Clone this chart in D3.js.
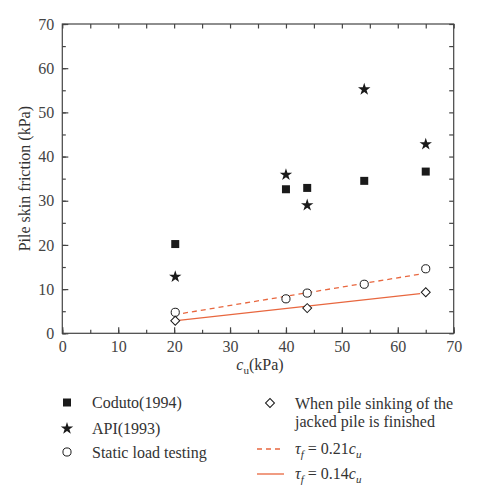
<!DOCTYPE html>
<html lang="en">
<head>
    <meta charset="utf-8">
    <title>Pile skin friction vs cu</title>
    <style>
        body { margin: 0; background: #fff; }
        svg text { font-family: "Liberation Serif", "DejaVu Serif", serif; fill: #333; }
        .axis path, .axis line { stroke: #444; stroke-width: 1.2; }
        .axis text { font-size: 16px; fill: #444; }
    </style>
</head>
<body>
<div id="chart"></div>
<script src="https://d3js.org/d3.v7.min.js"></script>
<script>
    // values
    var cuCoduto = [20.2, 40, 43.8, 54, 65];
    var coduto = [20.2, 32.6, 32.9, 34.5, 36.6];
    var cuApi = [20.2, 40, 43.8, 54, 65];
    var api = [12.8, 35.9, 29.0, 55.2, 42.8];
    var cuStatic = [20.2, 40, 43.8, 54, 65];
    var staticLoad = [4.75, 7.8, 9.1, 11.1, 14.6];
    var cuSinking = [20.2, 43.8, 65];
    var sinking = [2.85, 5.7, 9.3];
    var cuFit = [20, 64];
    var fit021 = [4.2, 13.4];
    var fit014 = [2.8, 9.0];
    var xTicks = [0, 10, 20, 30, 40, 50, 60, 70];
    var yTicks = [0, 10, 20, 30, 40, 50, 60, 70];

    var width = 478, height = 500;
    var margin = {left: 62.3, right: 24.3, top: 24, bottom: 166.7};
    var lineColor = "#e8673f";

    var svg = d3.select("#chart").append("svg")
        .attr("width", width).attr("height", height);

    var x = d3.scaleLinear().domain([0, 70]).range([margin.left, width - margin.right]);
    var y = d3.scaleLinear().domain([0, 70]).range([height - margin.bottom, margin.top]);
    var minor = d3.range(0, 71, 5);

    // frame
    svg.append("rect")
        .attr("x", x(0)).attr("y", y(70))
        .attr("width", x(70) - x(0)).attr("height", y(0) - y(70))
        .attr("fill", "none").attr("stroke", "#444").attr("stroke-width", 1.2);

    function noDomain(g) { g.select(".domain").remove(); }

    // inward ticks on all four sides
    svg.append("g").attr("class", "axis")
        .attr("transform", "translate(0," + y(0) + ")")
        .call(d3.axisBottom(x).tickValues(xTicks).tickSize(-6).tickPadding(7).tickFormat(d3.format("d")))
        .call(noDomain);
    svg.append("g").attr("class", "axis")
        .attr("transform", "translate(0," + y(0) + ")")
        .call(d3.axisBottom(x).tickValues(minor).tickSize(-3.5).tickFormat(""))
        .call(noDomain);
    svg.append("g").attr("class", "axis")
        .attr("transform", "translate(0," + y(70) + ")")
        .call(d3.axisTop(x).tickValues(minor).tickSize(-4.5).tickFormat(""))
        .call(noDomain);
    svg.append("g").attr("class", "axis")
        .attr("transform", "translate(" + x(0) + ",0)")
        .call(d3.axisLeft(y).tickValues(yTicks).tickSize(-6).tickPadding(8).tickFormat(d3.format("d")))
        .call(noDomain);
    svg.append("g").attr("class", "axis")
        .attr("transform", "translate(" + x(0) + ",0)")
        .call(d3.axisLeft(y).tickValues(minor).tickSize(-3.5).tickFormat(""))
        .call(noDomain);
    svg.append("g").attr("class", "axis")
        .attr("transform", "translate(" + x(70) + ",0)")
        .call(d3.axisRight(y).tickValues(minor).tickSize(-4.5).tickFormat(""))
        .call(noDomain);

    // axis titles
    var xt = svg.append("text")
        .attr("x", x(35) + 2).attr("y", 370)
        .attr("text-anchor", "middle").attr("font-size", 16);
    xt.append("tspan").attr("font-style", "italic").text("c");
    xt.append("tspan").attr("font-size", 11).attr("dy", 4).text("u");
    xt.append("tspan").attr("dy", -4).text("(kPa)");

    svg.append("text")
        .attr("transform", "translate(30," + y(35) + ") rotate(-90)")
        .attr("text-anchor", "middle").attr("font-size", 16)
        .text("Pile skin friction (kPa)");

    // fit lines
    var line = d3.line().x(function (d) { return x(d[0]); }).y(function (d) { return y(d[1]); });
    svg.append("path").datum(d3.zip(cuFit, fit021))
        .attr("d", line).attr("fill", "none").attr("stroke", lineColor)
        .attr("stroke-width", 1.3).attr("stroke-dasharray", "5,4");
    svg.append("path").datum(d3.zip(cuFit, fit014))
        .attr("d", line).attr("fill", "none").attr("stroke", lineColor)
        .attr("stroke-width", 1.3);

    var sym = {
        square: d3.symbol().type(d3.symbolSquare).size(64),
        star: d3.symbol().type(d3.symbolStar).size(48),
        circle: d3.symbol().type(d3.symbolCircle).size(52),
        diamond: d3.symbol().type(d3.symbolSquare).size(40)
    };

    function drawPoints(xs, ys, kind, filled) {
        svg.append("g").selectAll("path")
            .data(d3.zip(xs, ys))
            .enter().append("path")
            .attr("d", sym[kind])
            .attr("transform", function (d) {
                return "translate(" + x(d[0]) + "," + y(d[1]) + ")" + (kind === "diamond" ? " rotate(45)" : "");
            })
            .attr("fill", filled ? "#1a1a1a" : "#fff")
            .attr("stroke", "#1a1a1a").attr("stroke-width", filled ? 0 : 1);
    }
    drawPoints(cuCoduto, coduto, "square", true);
    drawPoints(cuApi, api, "star", true);
    drawPoints(cuStatic, staticLoad, "circle", false);
    drawPoints(cuSinking, sinking, "diamond", false);

    // legend
    var lg = svg.append("g");
    function legendSymbol(kind, filled, cx, cy) {
        lg.append("path").attr("d", sym[kind])
            .attr("transform", "translate(" + cx + "," + cy + ")" + (kind === "diamond" ? " rotate(45)" : ""))
            .attr("fill", filled ? "#1a1a1a" : "#fff")
            .attr("stroke", "#1a1a1a").attr("stroke-width", filled ? 0 : 1);
    }
    function legendText(tx, ty, str) {
        return lg.append("text").attr("x", tx).attr("y", ty).attr("font-size", 16).text(str);
    }
    legendSymbol("square", true, 67, 402.5);
    legendText(92, 408, "Coduto(1994)");
    legendSymbol("star", true, 67, 428.5);
    legendText(92, 433.5, "API(1993)");
    legendSymbol("circle", false, 67, 452);
    legendText(92, 457.5, "Static load testing");

    legendSymbol("diamond", false, 270, 403);
    legendText(295, 408.5, "When pile sinking of the");
    legendText(295, 426.5, "jacked pile is finished");

    lg.append("line").attr("x1", 257).attr("x2", 284).attr("y1", 449).attr("y2", 449)
        .attr("stroke", lineColor).attr("stroke-width", 1.3).attr("stroke-dasharray", "5,4");
    lg.append("line").attr("x1", 257).attr("x2", 284).attr("y1", 474).attr("y2", 474)
        .attr("stroke", lineColor).attr("stroke-width", 1.3);

    function tauLabel(ty, coef) {
        var t = legendText(295, ty, "");
        t.append("tspan").attr("font-style", "italic").text("τ");
        t.append("tspan").attr("font-style", "italic").attr("font-size", 11).attr("dy", 4).text("f");
        t.append("tspan").attr("dy", -4).text(" = " + coef);
        t.append("tspan").attr("font-style", "italic").text("c");
        t.append("tspan").attr("font-style", "italic").attr("font-size", 11).attr("dy", 4).text("u");
    }
    tauLabel(453.5, "0.21");
    tauLabel(478.5, "0.14");
</script>
</body>
</html>
